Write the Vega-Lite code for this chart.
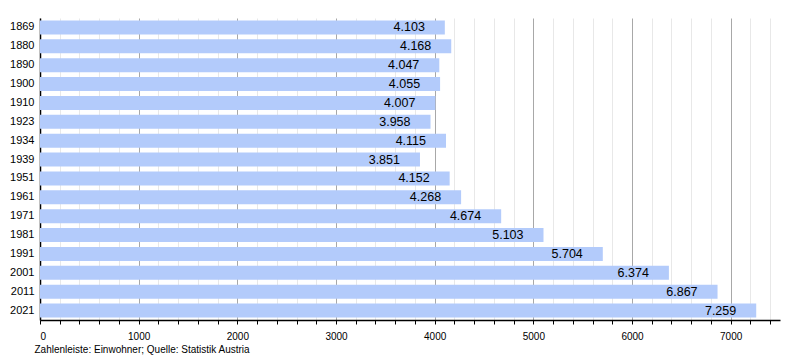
{
  "$schema": "https://vega.github.io/schema/vega-lite/v6.json",
  "width": 740,
  "height": 302,
  "autosize": "none",
  "padding": {"left": 40, "top": 18, "right": 20, "bottom": 40},
  "background": "white",
  "config": {
    "locale": {"number": {"decimal": ",", "thousands": ".", "grouping": [3], "currency": ["", " €"]}},
    "font": "Liberation Sans",
    "view": {"stroke": null}
  },
  "data": {"values": [
    {"year": "1869", "pop": 4103},
    {"year": "1880", "pop": 4168},
    {"year": "1890", "pop": 4047},
    {"year": "1900", "pop": 4055},
    {"year": "1910", "pop": 4007},
    {"year": "1923", "pop": 3958},
    {"year": "1934", "pop": 4115},
    {"year": "1939", "pop": 3851},
    {"year": "1951", "pop": 4152},
    {"year": "1961", "pop": 4268},
    {"year": "1971", "pop": 4674},
    {"year": "1981", "pop": 5103},
    {"year": "1991", "pop": 5704},
    {"year": "2001", "pop": 6374},
    {"year": "2011", "pop": 6867},
    {"year": "2021", "pop": 7259}
  ]},
  "encoding": {
    "y": {
      "field": "year", "type": "ordinal", "sort": null,
      "scale": {"paddingInner": 0.26, "paddingOuter": 0.13},
      "axis": {"title": null, "ticks": false, "domainColor": "#000", "domainWidth": 1.5, "labelFontSize": 11, "labelColor": "#000", "labelPadding": 6, "grid": false}
    },
    "x": {
      "field": "pop", "type": "quantitative",
      "scale": {"domain": [0, 7500], "nice": false},
      "axis": {
        "values": [0,200,400,600,800,1000,1200,1400,1600,1800,2000,2200,2400,2600,2800,3000,3200,3400,3600,3800,4000,4200,4400,4600,4800,5000,5200,5400,5600,5800,6000,6200,6400,6600,6800,7000,7200,7400],
        "labelExpr": "datum.value % 1000 === 0 ? format(datum.value, 'd') : ''",
        "format": "d",
        "labelFontSize": 10,
        "labelColor": "#000",
        "labelPadding": 7,
        "tickSize": 4,
        "tickColor": "#000",
        "domainColor": "#000",
        "domainWidth": 1.5,
        "grid": true,
        "gridColor": {"condition": {"test": "datum.value % 1000 === 0", "value": "#a8a8a8"}, "value": "#e8e8e8"},
        "title": "Zahlenleiste: Einwohner; Quelle: Statistik Austria",
        "titleFontSize": 10,
        "titleFontWeight": "normal",
        "titleColor": "#000",
        "titleAnchor": "start",
        "titleAlign": "left",
        "titleBaseline": "top",
        "titleX": -6,
        "titleY": 24
      }
    }
  },
  "layer": [
    {"mark": {"type": "bar", "color": "#b3cbfb"}},
    {"mark": {"type": "text", "align": "right", "baseline": "middle", "dx": -20, "fontSize": 12.5, "color": "#000"},
     "encoding": {"text": {"field": "pop", "type": "quantitative", "format": ",d"}}}
  ]
}
